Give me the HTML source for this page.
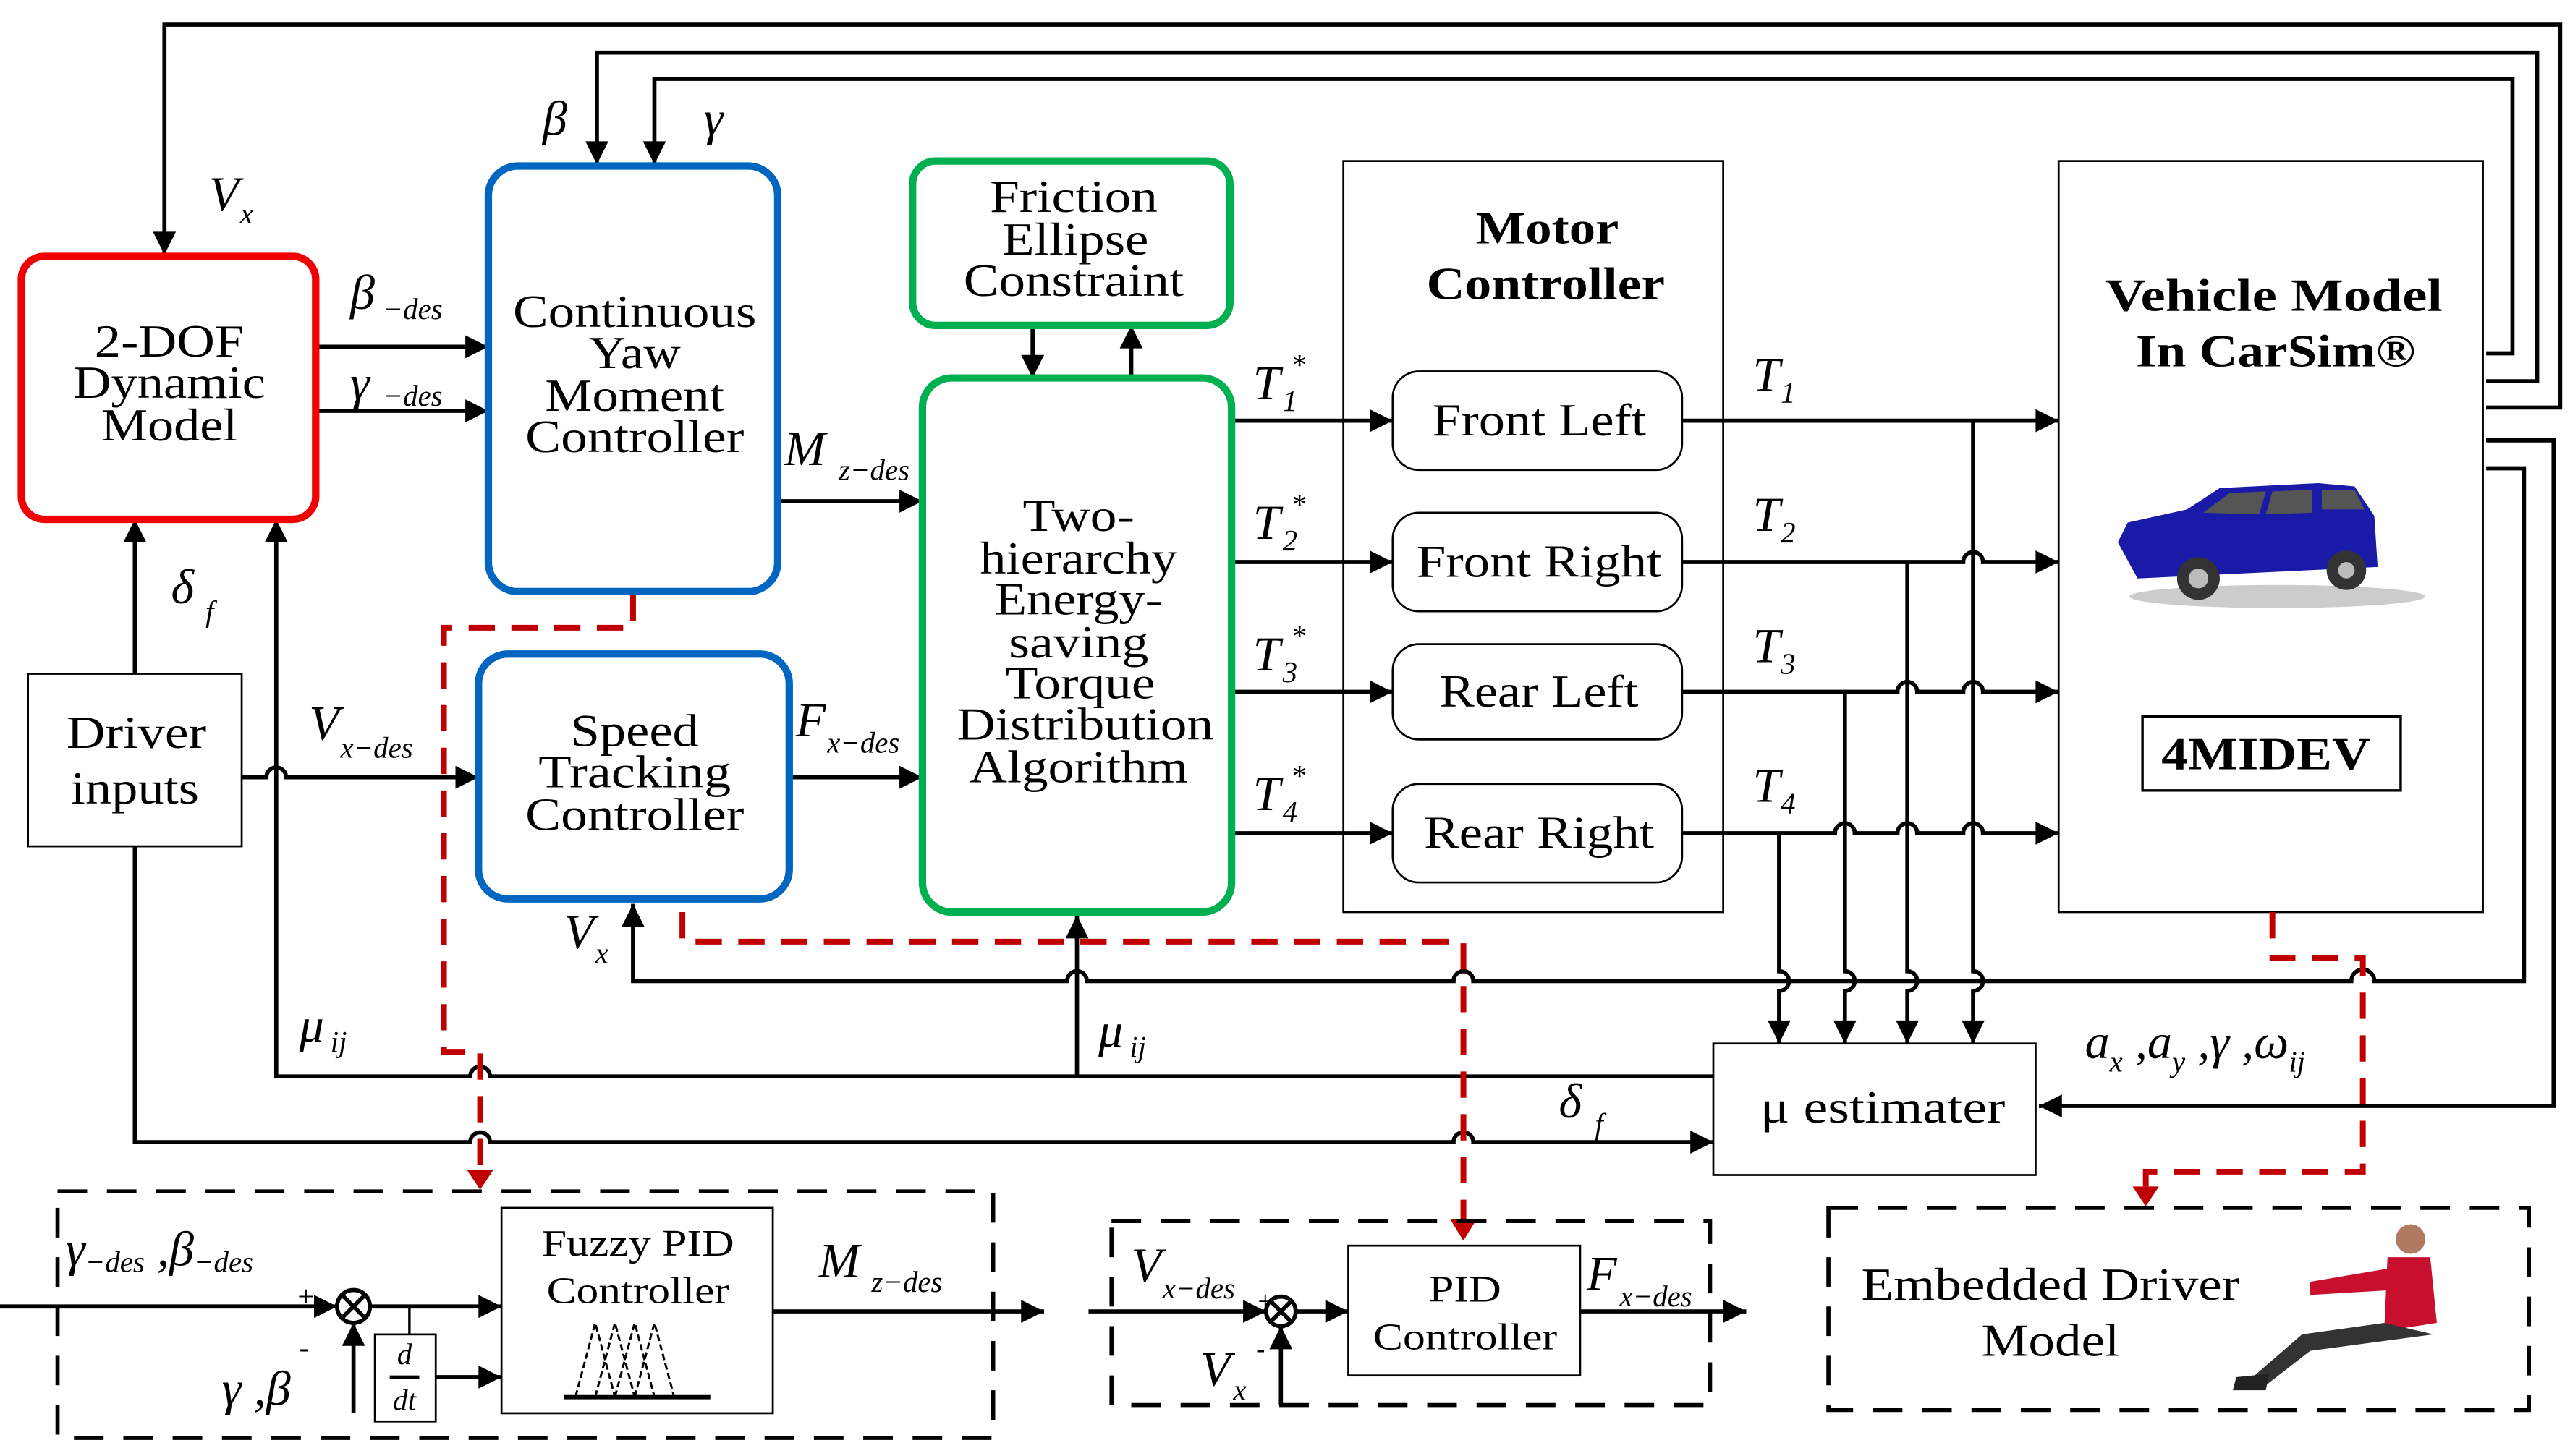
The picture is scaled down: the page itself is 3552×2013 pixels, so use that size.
<!DOCTYPE html>
<html><head><meta charset="utf-8"><style>
html,body{margin:0;padding:0;background:#fff;}
svg{display:block;}
text{font-family:"Liberation Serif","DejaVu Serif",serif;fill:#000;}
.t{font-size:28px;text-anchor:middle;}
.m{font-style:italic;font-size:30px;}
.s{font-style:italic;font-size:18px;}
</style></head><body>
<svg width="3552" height="2013" viewBox="0 0 1563 886" preserveAspectRatio="none" xmlns="http://www.w3.org/2000/svg" font-family="Liberation Serif, serif">
<defs>
<marker id="A" viewBox="0 0 10 10" refX="10" refY="5" markerWidth="20" markerHeight="14" orient="auto" markerUnits="userSpaceOnUse"><path d="M0,0 L10,5 L0,10 z" fill="#000"/></marker>
</defs>
<g fill="none" stroke="#000" stroke-width="2.5">
<polyline points="1512,248 1557,248 1557,15 100,15 100,155" marker-end="url(#A)"/>
<polyline points="1512,232 1543,232 1543,32 363,32 363,100" marker-end="url(#A)"/>
<polyline points="1512,215 1528,215 1528,48 398,48 398,100" marker-end="url(#A)"/>
<polyline points="1512,268 1553,268 1553,673 1240,673" marker-end="url(#A)"/>
<path d="M1512,285 L1535,285 L1535,597 L1444,597 a7,7 0 0 0 -14,0 L896,597 a6,6 0 0 0 -12,0 L661,597 a6,6 0 0 0 -12,0 L385,597 L385,550" marker-end="url(#A)"/>
<line x1="192" y1="211" x2="297" y2="211" marker-end="url(#A)"/>
<line x1="192" y1="250" x2="297" y2="250" marker-end="url(#A)"/>
<line x1="473" y1="305" x2="561" y2="305" marker-end="url(#A)"/>
<line x1="480" y1="473" x2="561" y2="473" marker-end="url(#A)"/>
<line x1="82" y1="410" x2="82" y2="316" marker-end="url(#A)"/>
<path d="M147,473 L162,473 a6,6 0 0 1 12,0 L291,473" marker-end="url(#A)"/>
<path d="M1042,655 L298,655 a6,6 0 0 0 -12,0 L168,655 L168,316" marker-end="url(#A)"/>
<line x1="655" y1="655" x2="655" y2="557" marker-end="url(#A)"/>
<path d="M82,515 L82,695 L286,695 a6,6 0 0 1 12,0 L884,695 a6,6 0 0 1 12,0 L1042,695" marker-end="url(#A)"/>
<line x1="628" y1="198" x2="628" y2="230" marker-end="url(#A)"/>
<line x1="688" y1="230" x2="688" y2="198" marker-end="url(#A)"/>
<line x1="749" y1="256" x2="847" y2="256" marker-end="url(#A)"/>
<line x1="749" y1="342" x2="847" y2="342" marker-end="url(#A)"/>
<line x1="749" y1="421" x2="847" y2="421" marker-end="url(#A)"/>
<line x1="749" y1="507" x2="847" y2="507" marker-end="url(#A)"/>
<line x1="1023" y1="256" x2="1252" y2="256" marker-end="url(#A)"/>
<path d="M1023,342 L1194,342 a6,6 0 0 1 12,0 L1252,342" marker-end="url(#A)"/>
<path d="M1023,421 L1154,421 a6,6 0 0 1 12,0 L1194,421 a6,6 0 0 1 12,0 L1252,421" marker-end="url(#A)"/>
<path d="M1023,507 L1116,507 a6,6 0 0 1 12,0 L1154,507 a6,6 0 0 1 12,0 L1194,507 a6,6 0 0 1 12,0 L1252,507" marker-end="url(#A)"/>
<path d="M1200,256 L1200,591 a6,6 0 0 1 0,12 L1200,635" marker-end="url(#A)"/>
<path d="M1160,342 L1160,591 a6,6 0 0 1 0,12 L1160,635" marker-end="url(#A)"/>
<path d="M1122,421 L1122,591 a6,6 0 0 1 0,12 L1122,635" marker-end="url(#A)"/>
<path d="M1082,507 L1082,591 a6,6 0 0 1 0,12 L1082,635" marker-end="url(#A)"/>
</g>
<rect x="13" y="156" width="179" height="160" rx="14" fill="#fff" stroke="#f00000" stroke-width="4.5"/>
<rect x="297" y="101" width="176" height="259" rx="18" fill="#fff" stroke="#0066c0" stroke-width="4.5"/>
<rect x="291" y="398" width="189" height="149" rx="18" fill="#fff" stroke="#0066c0" stroke-width="4.5"/>
<rect x="555" y="98" width="193" height="100" rx="14" fill="#fff" stroke="#00b050" stroke-width="4.5"/>
<rect x="561" y="230" width="188" height="325" rx="18" fill="#fff" stroke="#00b050" stroke-width="4.5"/>
<rect x="817" y="98" width="231" height="457" fill="none" stroke="#000" stroke-width="1.2"/>
<rect x="1252" y="98" width="258" height="457" fill="none" stroke="#000" stroke-width="1.2"/>
<g fill="#fff" stroke="#000" stroke-width="1.2">
<rect x="847" y="226" width="176" height="60" rx="16"/>
<rect x="847" y="312" width="176" height="60" rx="16"/>
<rect x="847" y="392" width="176" height="58" rx="16"/>
<rect x="847" y="477" width="176" height="60" rx="16"/>
<rect x="17" y="410" width="130" height="105"/>
<rect x="1042" y="635" width="196" height="80"/>
<rect x="305" y="735" width="165" height="125"/>
<rect x="228" y="812" width="37" height="53"/>
<rect x="820" y="758" width="141" height="79"/>
</g>
<rect x="1303" y="436" width="157" height="45" fill="none" stroke="#000" stroke-width="1.5"/>
<g>
<text x="103" y="217" class="t" textLength="91" lengthAdjust="spacingAndGlyphs">2-DOF</text>
<text x="103" y="242" class="t" textLength="117" lengthAdjust="spacingAndGlyphs">Dynamic</text>
<text x="103" y="268" class="t" textLength="83" lengthAdjust="spacingAndGlyphs">Model</text>
<text x="386" y="199" class="t" textLength="148" lengthAdjust="spacingAndGlyphs">Continuous</text>
<text x="386" y="224" class="t" textLength="56" lengthAdjust="spacingAndGlyphs">Yaw</text>
<text x="386" y="250" class="t" textLength="109" lengthAdjust="spacingAndGlyphs">Moment</text>
<text x="386" y="275" class="t" textLength="133" lengthAdjust="spacingAndGlyphs">Controller</text>
<text x="386" y="454" class="t" textLength="78" lengthAdjust="spacingAndGlyphs">Speed</text>
<text x="386" y="479" class="t" textLength="117" lengthAdjust="spacingAndGlyphs">Tracking</text>
<text x="386" y="505" class="t" textLength="133" lengthAdjust="spacingAndGlyphs">Controller</text>
<text x="653" y="129" class="t" textLength="102" lengthAdjust="spacingAndGlyphs">Friction</text>
<text x="654" y="155" class="t" textLength="89" lengthAdjust="spacingAndGlyphs">Ellipse</text>
<text x="653" y="180" class="t" textLength="134" lengthAdjust="spacingAndGlyphs">Constraint</text>
<text x="656" y="323" class="t" textLength="68" lengthAdjust="spacingAndGlyphs">Two-</text>
<text x="656" y="349" class="t" textLength="120" lengthAdjust="spacingAndGlyphs">hierarchy</text>
<text x="656" y="374" class="t" textLength="102" lengthAdjust="spacingAndGlyphs">Energy-</text>
<text x="656" y="400" class="t" textLength="85" lengthAdjust="spacingAndGlyphs">saving</text>
<text x="657" y="425" class="t" textLength="91" lengthAdjust="spacingAndGlyphs">Torque</text>
<text x="660" y="450" class="t" textLength="156" lengthAdjust="spacingAndGlyphs">Distribution</text>
<text x="656" y="476" class="t" textLength="133" lengthAdjust="spacingAndGlyphs">Algorithm</text>
<text x="941" y="148" class="t" font-weight="bold" textLength="87" lengthAdjust="spacingAndGlyphs">Motor</text>
<text x="940" y="182" class="t" font-weight="bold" textLength="145" lengthAdjust="spacingAndGlyphs">Controller</text>
<text x="936" y="265" class="t" textLength="130" lengthAdjust="spacingAndGlyphs">Front Left</text>
<text x="936" y="351" class="t" textLength="149" lengthAdjust="spacingAndGlyphs">Front Right</text>
<text x="936" y="430" class="t" textLength="121" lengthAdjust="spacingAndGlyphs">Rear Left</text>
<text x="936" y="516" class="t" textLength="140" lengthAdjust="spacingAndGlyphs">Rear Right</text>
<text x="1383" y="189" class="t" font-weight="bold" textLength="205" lengthAdjust="spacingAndGlyphs">Vehicle  Model</text>
<text x="1384" y="223" class="t" font-weight="bold" textLength="170" lengthAdjust="spacingAndGlyphs">In CarSim®</text>
<text x="1378" y="468" class="t" font-weight="bold" textLength="127" lengthAdjust="spacingAndGlyphs">4MIDEV</text>
<text x="83" y="455" class="t" textLength="85" lengthAdjust="spacingAndGlyphs">Driver</text>
<text x="82" y="489" class="t" textLength="78" lengthAdjust="spacingAndGlyphs">inputs</text>
<text x="1145" y="683" class="t" textLength="149" lengthAdjust="spacingAndGlyphs">μ  estimater</text>
<text x="388" y="764" class="t" style="font-size:23px" textLength="117" lengthAdjust="spacingAndGlyphs">Fuzzy PID</text>
<text x="388" y="793" class="t" style="font-size:23px" textLength="111" lengthAdjust="spacingAndGlyphs">Controller</text>
<text x="891" y="792" class="t" style="font-size:23px" textLength="44" lengthAdjust="spacingAndGlyphs">PID</text>
<text x="891" y="821" class="t" style="font-size:23px" textLength="112" lengthAdjust="spacingAndGlyphs">Controller</text>
<text x="1247" y="791" class="t" textLength="230" lengthAdjust="spacingAndGlyphs">Embedded Driver</text>
<text x="1247" y="825" class="t" textLength="84" lengthAdjust="spacingAndGlyphs">Model</text>
</g>
<text x="330" y="82" class="m">β</text><text x="428" y="82" class="m">γ</text>
<text x="127" y="128" class="m">V</text><text x="146" y="136" class="s">x</text>
<text x="213" y="188" class="m">β</text><text x="233" y="194" class="s">−des</text>
<text x="213" y="243" class="m">γ</text><text x="233" y="247" class="s">−des</text>
<text x="477" y="283" class="m">M</text><text x="510" y="292" class="s">z−des</text>
<text x="484" y="448" class="m">F</text><text x="503" y="458" class="s">x−des</text>
<text x="104" y="367" class="m">δ</text><text x="125" y="378" class="s">f</text>
<text x="188" y="450" class="m">V</text><text x="207" y="461" class="s">x−des</text>
<text x="343" y="577" class="m">V</text><text x="362" y="586" class="s">x</text>
<text x="182" y="634" class="m">μ</text><text x="201" y="640" class="s">ij</text>
<text x="668" y="637" class="m">μ</text><text x="687" y="643" class="s">ij</text>
<text x="948" y="680" class="m">δ</text><text x="970" y="690" class="s">f</text>
<text x="1268" y="644" class="m">a<tspan class="s" dy="8">x</tspan><tspan dy="-8"> ,a</tspan><tspan class="s" dy="8">y</tspan><tspan dy="-8"> ,γ ,ω</tspan><tspan class="s" dy="8">ij</tspan></text>
<text x="762" y="243" class="m">T</text><text x="780" y="250" class="s">1</text><text x="785" y="228" class="s">*</text>
<text x="762" y="328" class="m">T</text><text x="780" y="335" class="s">2</text><text x="785" y="313" class="s">*</text>
<text x="762" y="408" class="m">T</text><text x="780" y="415" class="s">3</text><text x="785" y="393" class="s">*</text>
<text x="762" y="493" class="m">T</text><text x="780" y="500" class="s">4</text><text x="785" y="478" class="s">*</text>
<text x="1066" y="238" class="m">T</text><text x="1083" y="245" class="s">1</text>
<text x="1066" y="323" class="m">T</text><text x="1083" y="330" class="s">2</text>
<text x="1066" y="403" class="m">T</text><text x="1083" y="410" class="s">3</text>
<text x="1066" y="488" class="m">T</text><text x="1083" y="495" class="s">4</text>
<g fill="none" stroke="#c00000" stroke-width="3.5" stroke-dasharray="16 10">
<polyline points="385,362 385,382 270,382 270,640 292,640 292,712"/>
<polyline points="415,555 415,573 890,573 890,742"/>
<polyline points="1382,555 1382,583 1437,583 1437,713 1305,713 1305,724"/>
</g>
<path d="M284,712 L300,712 L292,724 z M882,742 L898,742 L890,755 z M1297,722 L1313,722 L1305,734 z" fill="#c00000"/>
<g fill="none" stroke="#000" stroke-width="2.5" stroke-dasharray="18 12">
<rect x="35" y="725" width="569" height="150"/>
<rect x="676" y="743" width="364" height="112"/>
<rect x="1112" y="735" width="426" height="123"/>
</g>
<g fill="none" stroke="#000" stroke-width="2.5">
<line x1="0" y1="795" x2="205" y2="795" marker-end="url(#A)"/>
<circle cx="215" cy="795" r="10" fill="#fff"/>
<path d="M208,788 L222,802 M222,788 L208,802"/>
<line x1="225" y1="795" x2="305" y2="795" marker-end="url(#A)"/>
<line x1="249" y1="795" x2="249" y2="812" stroke-width="1.5"/>
<line x1="215" y1="860" x2="215" y2="805" marker-end="url(#A)"/>
<line x1="265" y1="838" x2="305" y2="838" marker-end="url(#A)"/>
<line x1="470" y1="798" x2="635" y2="798" marker-end="url(#A)"/>
<line x1="662" y1="798" x2="770" y2="798" marker-end="url(#A)"/>
<circle cx="779" cy="798" r="9" fill="#fff"/>
<path d="M773,792 L785,804 M785,792 L773,804"/>
<line x1="788" y1="798" x2="820" y2="798" marker-end="url(#A)"/>
<line x1="779" y1="855" x2="779" y2="807" marker-end="url(#A)"/>
<line x1="961" y1="798" x2="1062" y2="798" marker-end="url(#A)"/>
<line x1="237" y1="838" x2="255" y2="838" stroke-width="2"/>
<line x1="343" y1="850" x2="432" y2="850" stroke-width="3"/>
<path d="M350,850 L362,805 L374,850 M362,850 L374,805 L386,850 M374,850 L386,805 L398,850 M386,850 L398,805 L410,850" stroke-width="1.3" stroke-dasharray="4 2"/>
</g>
<text x="181" y="795" font-size="18">+</text><text x="182" y="826" font-size="18">-</text>
<text x="765" y="797" font-size="16">+</text><text x="764" y="826" font-size="16">-</text>
<text x="246" y="830" class="s" text-anchor="middle">d</text><text x="246" y="858" class="s" text-anchor="middle">dt</text>
<text x="40" y="770" class="m">γ<tspan class="s" dy="4">−des</tspan><tspan dy="-4"> ,β</tspan><tspan class="s" dy="4">−des</tspan></text>
<text x="135" y="855" class="m">γ ,β</text>
<text x="498" y="777" class="m">M</text><text x="530" y="786" class="s">z−des</text>
<text x="688" y="780" class="m">V</text><text x="707" y="790" class="s">x−des</text>
<text x="730" y="843" class="m">V</text><text x="750" y="852" class="s">x</text>
<text x="965" y="785" class="m">F</text><text x="985" y="795" class="s">x−des</text>
<g>
<ellipse cx="1385" cy="363" rx="90" ry="7" fill="#aaa" opacity="0.6"/>
<path d="M1288,330 L1294,318 L1330,310 L1350,297 L1410,294 L1432,296 L1444,314 L1446,345 L1300,352 Z" fill="#1a1aa8"/>
<path d="M1340,312 L1356,300 L1378,299 L1374,313 Z M1382,299 L1406,298 L1406,312 L1378,313 Z M1412,298 L1432,298 L1438,310 L1412,310 Z" fill="#555"/>
<circle cx="1337" cy="352" r="13" fill="#333"/><circle cx="1337" cy="352" r="6" fill="#bbb"/>
<circle cx="1427" cy="347" r="12" fill="#333"/><circle cx="1427" cy="347" r="5" fill="#bbb"/>
</g>
<g>
<circle cx="1466" cy="754" r="9" fill="#b07a60"/>
<path d="M1452,765 L1478,765 L1482,805 L1450,810 Z" fill="#c8102e"/>
<path d="M1452,772 L1405,780 L1405,788 L1455,785 Z" fill="#c8102e"/>
<path d="M1450,805 L1400,812 L1370,838 L1378,843 L1405,822 L1480,812 Z" fill="#333"/>
<path d="M1360,838 L1380,836 L1378,846 L1358,846 Z" fill="#222"/>
</g>
</svg>
</body></html>
